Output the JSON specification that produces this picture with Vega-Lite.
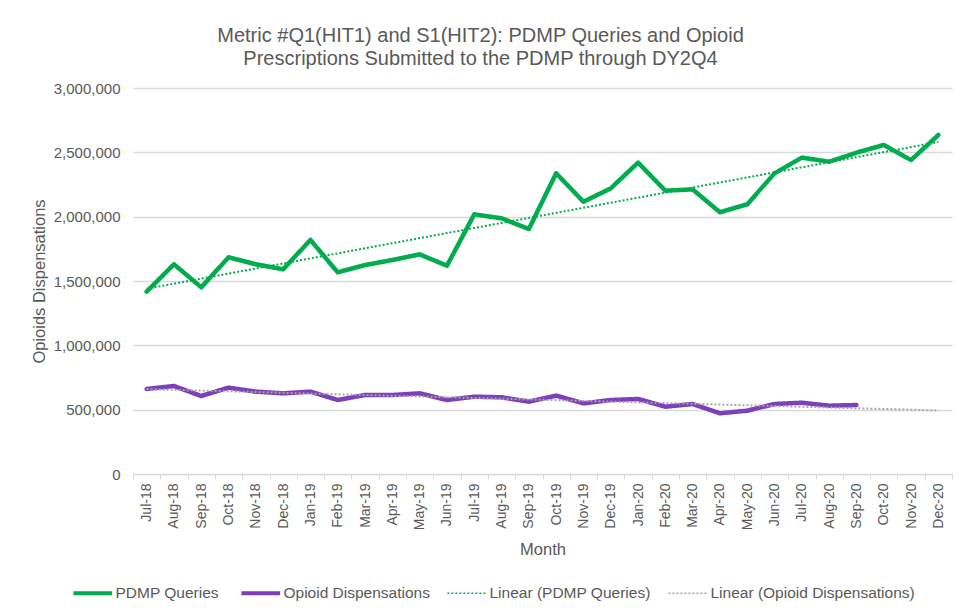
{
  "$schema": "https://vega.github.io/schema/vega-lite/v6.json",
  "width": 819,
  "height": 386,
  "autosize": {"type": "none"},
  "padding": {"left": 133, "top": 88, "right": 7, "bottom": 140},
  "background": "white",
  "title": {
    "text": ["Metric #Q1(HIT1)  and S1(HIT2): PDMP Queries and Opioid", "Prescriptions Submitted to the PDMP through DY2Q4"],
    "font": "Liberation Sans",
    "fontSize": 20,
    "fontWeight": "normal",
    "color": "#595959",
    "lineHeight": 23,
    "anchor": "middle",
    "dx": -62,
    "offset": 12
  },
  "config": {
    "view": {"stroke": null},
    "font": "Liberation Sans",
    "axis": {"labelFont": "Liberation Sans", "titleFont": "Liberation Sans", "labelColor": "#595959", "titleColor": "#595959", "titleFontWeight": "normal"},
    "legend": {"labelFont": "Liberation Sans", "labelColor": "#595959"}
  },
  "resolve": {"scale": {"x": "independent"}},
  "datasets": {
    "main": [
      {"month": "Jul-18", "i": 0, "series": "PDMP Queries", "trend": "Linear (PDMP Queries)", "value": 1417000},
      {"month": "Aug-18", "i": 1, "series": "PDMP Queries", "trend": "Linear (PDMP Queries)", "value": 1630000},
      {"month": "Sep-18", "i": 2, "series": "PDMP Queries", "trend": "Linear (PDMP Queries)", "value": 1451000},
      {"month": "Oct-18", "i": 3, "series": "PDMP Queries", "trend": "Linear (PDMP Queries)", "value": 1684000},
      {"month": "Nov-18", "i": 4, "series": "PDMP Queries", "trend": "Linear (PDMP Queries)", "value": 1630000},
      {"month": "Dec-18", "i": 5, "series": "PDMP Queries", "trend": "Linear (PDMP Queries)", "value": 1591000},
      {"month": "Jan-19", "i": 6, "series": "PDMP Queries", "trend": "Linear (PDMP Queries)", "value": 1819000},
      {"month": "Feb-19", "i": 7, "series": "PDMP Queries", "trend": "Linear (PDMP Queries)", "value": 1567000},
      {"month": "Mar-19", "i": 8, "series": "PDMP Queries", "trend": "Linear (PDMP Queries)", "value": 1624000},
      {"month": "Apr-19", "i": 9, "series": "PDMP Queries", "trend": "Linear (PDMP Queries)", "value": 1663000},
      {"month": "May-19", "i": 10, "series": "PDMP Queries", "trend": "Linear (PDMP Queries)", "value": 1707000},
      {"month": "Jun-19", "i": 11, "series": "PDMP Queries", "trend": "Linear (PDMP Queries)", "value": 1619000},
      {"month": "Jul-19", "i": 12, "series": "PDMP Queries", "trend": "Linear (PDMP Queries)", "value": 2018000},
      {"month": "Aug-19", "i": 13, "series": "PDMP Queries", "trend": "Linear (PDMP Queries)", "value": 1987000},
      {"month": "Sep-19", "i": 14, "series": "PDMP Queries", "trend": "Linear (PDMP Queries)", "value": 1904000},
      {"month": "Oct-19", "i": 15, "series": "PDMP Queries", "trend": "Linear (PDMP Queries)", "value": 2337000},
      {"month": "Nov-19", "i": 16, "series": "PDMP Queries", "trend": "Linear (PDMP Queries)", "value": 2116000},
      {"month": "Dec-19", "i": 17, "series": "PDMP Queries", "trend": "Linear (PDMP Queries)", "value": 2220000},
      {"month": "Jan-20", "i": 18, "series": "PDMP Queries", "trend": "Linear (PDMP Queries)", "value": 2420000},
      {"month": "Feb-20", "i": 19, "series": "PDMP Queries", "trend": "Linear (PDMP Queries)", "value": 2202000},
      {"month": "Mar-20", "i": 20, "series": "PDMP Queries", "trend": "Linear (PDMP Queries)", "value": 2212000},
      {"month": "Apr-20", "i": 21, "series": "PDMP Queries", "trend": "Linear (PDMP Queries)", "value": 2034000},
      {"month": "May-20", "i": 22, "series": "PDMP Queries", "trend": "Linear (PDMP Queries)", "value": 2096000},
      {"month": "Jun-20", "i": 23, "series": "PDMP Queries", "trend": "Linear (PDMP Queries)", "value": 2337000},
      {"month": "Jul-20", "i": 24, "series": "PDMP Queries", "trend": "Linear (PDMP Queries)", "value": 2459000},
      {"month": "Aug-20", "i": 25, "series": "PDMP Queries", "trend": "Linear (PDMP Queries)", "value": 2427000},
      {"month": "Sep-20", "i": 26, "series": "PDMP Queries", "trend": "Linear (PDMP Queries)", "value": 2497000},
      {"month": "Oct-20", "i": 27, "series": "PDMP Queries", "trend": "Linear (PDMP Queries)", "value": 2557000},
      {"month": "Nov-20", "i": 28, "series": "PDMP Queries", "trend": "Linear (PDMP Queries)", "value": 2440000},
      {"month": "Dec-20", "i": 29, "series": "PDMP Queries", "trend": "Linear (PDMP Queries)", "value": 2635000},
      {"month": "Jul-18", "i": 0, "series": "Opioid Dispensations", "trend": "Linear (Opioid Dispensations)", "value": 661000},
      {"month": "Aug-18", "i": 1, "series": "Opioid Dispensations", "trend": "Linear (Opioid Dispensations)", "value": 684000},
      {"month": "Sep-18", "i": 2, "series": "Opioid Dispensations", "trend": "Linear (Opioid Dispensations)", "value": 606000},
      {"month": "Oct-18", "i": 3, "series": "Opioid Dispensations", "trend": "Linear (Opioid Dispensations)", "value": 671000},
      {"month": "Nov-18", "i": 4, "series": "Opioid Dispensations", "trend": "Linear (Opioid Dispensations)", "value": 640000},
      {"month": "Dec-18", "i": 5, "series": "Opioid Dispensations", "trend": "Linear (Opioid Dispensations)", "value": 627000},
      {"month": "Jan-19", "i": 6, "series": "Opioid Dispensations", "trend": "Linear (Opioid Dispensations)", "value": 640000},
      {"month": "Feb-19", "i": 7, "series": "Opioid Dispensations", "trend": "Linear (Opioid Dispensations)", "value": 575000},
      {"month": "Mar-19", "i": 8, "series": "Opioid Dispensations", "trend": "Linear (Opioid Dispensations)", "value": 614000},
      {"month": "Apr-19", "i": 9, "series": "Opioid Dispensations", "trend": "Linear (Opioid Dispensations)", "value": 614000},
      {"month": "May-19", "i": 10, "series": "Opioid Dispensations", "trend": "Linear (Opioid Dispensations)", "value": 627000},
      {"month": "Jun-19", "i": 11, "series": "Opioid Dispensations", "trend": "Linear (Opioid Dispensations)", "value": 575000},
      {"month": "Jul-19", "i": 12, "series": "Opioid Dispensations", "trend": "Linear (Opioid Dispensations)", "value": 601000},
      {"month": "Aug-19", "i": 13, "series": "Opioid Dispensations", "trend": "Linear (Opioid Dispensations)", "value": 596000},
      {"month": "Sep-19", "i": 14, "series": "Opioid Dispensations", "trend": "Linear (Opioid Dispensations)", "value": 562000},
      {"month": "Oct-19", "i": 15, "series": "Opioid Dispensations", "trend": "Linear (Opioid Dispensations)", "value": 609000},
      {"month": "Nov-19", "i": 16, "series": "Opioid Dispensations", "trend": "Linear (Opioid Dispensations)", "value": 549000},
      {"month": "Dec-19", "i": 17, "series": "Opioid Dispensations", "trend": "Linear (Opioid Dispensations)", "value": 575000},
      {"month": "Jan-20", "i": 18, "series": "Opioid Dispensations", "trend": "Linear (Opioid Dispensations)", "value": 583000},
      {"month": "Feb-20", "i": 19, "series": "Opioid Dispensations", "trend": "Linear (Opioid Dispensations)", "value": 523000},
      {"month": "Mar-20", "i": 20, "series": "Opioid Dispensations", "trend": "Linear (Opioid Dispensations)", "value": 544000},
      {"month": "Apr-20", "i": 21, "series": "Opioid Dispensations", "trend": "Linear (Opioid Dispensations)", "value": 472000},
      {"month": "May-20", "i": 22, "series": "Opioid Dispensations", "trend": "Linear (Opioid Dispensations)", "value": 492000},
      {"month": "Jun-20", "i": 23, "series": "Opioid Dispensations", "trend": "Linear (Opioid Dispensations)", "value": 544000},
      {"month": "Jul-20", "i": 24, "series": "Opioid Dispensations", "trend": "Linear (Opioid Dispensations)", "value": 554000},
      {"month": "Aug-20", "i": 25, "series": "Opioid Dispensations", "trend": "Linear (Opioid Dispensations)", "value": 531000},
      {"month": "Sep-20", "i": 26, "series": "Opioid Dispensations", "trend": "Linear (Opioid Dispensations)", "value": 536000}
    ]
  },
  "data": {"name": "main"},
  "encoding": {
    "y": {
      "field": "value",
      "type": "quantitative",
      "scale": {"domain": [0, 3000000], "nice": false},
      "axis": {
        "title": "Opioids Dispensations",
        "titleFontSize": 16.5,
        "titlePadding": 6,
        "values": [0, 500000, 1000000, 1500000, 2000000, 2500000, 3000000],
        "format": ",.0f",
        "labelFontSize": 15,
        "labelPadding": 13,
        "ticks": false,
        "domain": false,
        "gridColor": "#D9D9D9",
        "gridWidth": 1.3
      }
    }
  },
  "layer": [
    {
      "mark": {"type": "line", "strokeWidth": 4.5, "strokeJoin": "round", "strokeCap": "round"},
      "encoding": {
        "x": {
          "field": "month",
          "type": "nominal",
          "bandPosition": 0.5,
          "scale": {
            "type": "band",
            "paddingInner": 0,
            "paddingOuter": 0,
            "domain": ["Jul-18","Aug-18","Sep-18","Oct-18","Nov-18","Dec-18","Jan-19","Feb-19","Mar-19","Apr-19","May-19","Jun-19","Jul-19","Aug-19","Sep-19","Oct-19","Nov-19","Dec-19","Jan-20","Feb-20","Mar-20","Apr-20","May-20","Jun-20","Jul-20","Aug-20","Sep-20","Oct-20","Nov-20","Dec-20"]
          },
          "axis": {
            "title": "Month",
            "titleFontSize": 16.5,
            "titlePadding": 12,
            "labelAngle": -90,
            "labelFontSize": 14,
            "labelPadding": 4,
            "tickBand": "extent",
            "tickSize": 5,
            "tickColor": "#D9D9D9",
            "domainColor": "#D9D9D9",
            "grid": false
          }
        },
        "color": {
          "field": "series",
          "type": "nominal",
          "scale": {
            "domain": ["PDMP Queries", "Opioid Dispensations", "Linear (PDMP Queries)", "Linear (Opioid Dispensations)"],
            "range": ["#00AC4D", "#7E40BA", "#00AC4D", "#A6A6A6"]
          },
          "legend": {
            "title": null,
            "orient": "none",
            "legendX": -48,
            "legendY": 497,
            "direction": "horizontal",
            "symbolType": "stroke",
            "symbolSize": 1500,
            "labelFontSize": 15.5,
            "labelLimit": 400,
            "symbolStrokeWidth": 4,
            "columnPadding": 14,
            "labelOffset": 15,
            "encode": {
              "symbols": {
                "update": {
                  "strokeWidth": {"signal": "datum.index >= 2 ? 1.5 : 4"}
                }
              }
            }
          }
        },
        "strokeDash": {
          "field": "series",
          "type": "nominal",
          "scale": {
            "domain": ["PDMP Queries", "Opioid Dispensations", "Linear (PDMP Queries)", "Linear (Opioid Dispensations)"],
            "range": [[1, 0], [1, 0], [2, 2], [2, 2]]
          },
          "legend": {
            "title": null,
            "orient": "none",
            "legendX": -48,
            "legendY": 497,
            "direction": "horizontal",
            "symbolType": "stroke",
            "symbolSize": 1500,
            "labelFontSize": 15.5,
            "labelLimit": 400,
            "symbolStrokeWidth": 4,
            "columnPadding": 14,
            "labelOffset": 15
          }
        }
      }
    },
    {
      "transform": [
        {"regression": "value", "on": "i", "groupby": ["trend"], "method": "linear", "extent": [0, 29]}
      ],
      "mark": {"type": "line", "strokeWidth": 2},
      "encoding": {
        "x": {
          "field": "i",
          "type": "quantitative",
          "scale": {"domain": [-0.5, 29.5], "nice": false, "zero": false},
          "axis": null
        },
        "color": {"field": "trend", "type": "nominal", "legend": null},
        "strokeDash": {"field": "trend", "type": "nominal", "legend": null}
      }
    }
  ]
}
